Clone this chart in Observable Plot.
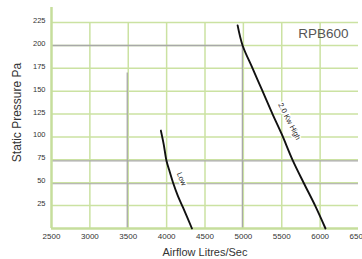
<!DOCTYPE html>
<html><head><meta charset="utf-8">
<script src="https://cdn.jsdelivr.net/npm/d3@7"></script>
<script src="https://cdn.jsdelivr.net/npm/@observablehq/plot@0.6"></script>
<style>body{margin:0;background:#fff;} #chart svg{display:block;}</style>
</head><body><div id="chart"></div>
<script>
const xTicks = [2500, 3000, 3500, 4000, 4500, 5000, 5500, 6000, 6500];
const yTicks = [25, 50, 75, 100, 125, 150, 175, 200, 225];
const highAirflow  = [4925, 4990, 5120, 5250, 5380, 5500, 5640, 5785, 5935, 6070];
const highPressure = [222, 200, 175, 150, 125, 103, 75, 50, 25, 0];
const lowAirflow   = [3925, 3962, 3998, 4040, 4084, 4145, 4213, 4330];
const lowPressure  = [107, 92, 74, 62, 50, 36, 23, 0];
const curveLabels  = [{a: 4195, p: 54, t: "Low", r: 68}, {a: 5600, p: 117, t: "2.0 Kw High", r: 63}];
const modelName = "RPB600";
const xLabel = "Airflow Litres/Sec";
const yLabel = "Static Pressure Pa";

const high = highAirflow.map((a, i) => ({a, p: highPressure[i]}));
const low = lowAirflow.map((a, i) => ({a, p: lowPressure[i]}));
const green = "#cbe2a2";
const grey = "#a8a8a8";

const chart = Plot.plot({
  width: 362, height: 259,
  marginLeft: 51, marginRight: 4, marginTop: 7, marginBottom: 31,
  style: {fontFamily: "'Liberation Sans', Arial, sans-serif", color: "#333", background: "#fff"},
  x: {domain: [2500, 6500]},
  y: {domain: [0, 241.5]},
  marks: [
    Plot.ruleY(yTicks, {x1: 2500, x2: 6500, stroke: green, strokeWidth: 1.5}),
    Plot.ruleX(xTicks.filter(d => d > 2500 && d < 6500), {y1: 0, y2: 225, stroke: green, strokeWidth: 1.5}),
    Plot.ruleY([75, 50], {x1: 2500, x2: 6500, stroke: grey, strokeWidth: 1.2, dy: 1}),
    Plot.ruleY([200], {x1: 2500, x2: 5000, stroke: grey, strokeWidth: 1.3}),
    Plot.ruleX([5000], {y1: 0, y2: 200, stroke: grey, strokeWidth: 1.3, dx: -1}),
    Plot.ruleX([3500], {y1: 0, y2: 170, stroke: grey, strokeWidth: 1.3, dx: -1}),
    Plot.ruleX([2500], {y1: 0, y2: 241.5, stroke: "#c6de9c", strokeWidth: 2.5}),
    Plot.ruleY([0], {x1: 2500, x2: 6500, stroke: "#c6de9c", strokeWidth: 2.5}),
    Plot.line(high, {x: "a", y: "p", stroke: "#111", strokeWidth: 1.9, curve: "catmull-rom"}),
    Plot.line(low, {x: "a", y: "p", stroke: "#111", strokeWidth: 1.9, curve: "catmull-rom"}),
    Plot.text(curveLabels, {x: "a", y: "p", text: "t", rotate: "r", fontSize: 7.5, fill: "#222", stroke: "white", strokeWidth: 3, paintOrder: "stroke"}),
    Plot.axisY({ticks: yTicks, tickSize: 0, tickPadding: 6, fontSize: 7.5, dy: -2, label: null}),
    Plot.axisX({ticks: xTicks, tickSize: 0, tickPadding: 5, fontSize: 8, tickFormat: d => String(d), label: null}),
    Plot.text([modelName], {frameAnchor: "top-right", dx: -10, dy: 26, lineAnchor: "middle", textAnchor: "end", fontSize: 13.5, fill: "#555"}),
    Plot.text([xLabel], {frameAnchor: "bottom", dy: 24, lineAnchor: "middle", fontSize: 11, fill: "#333"}),
    Plot.text([yLabel], {frameAnchor: "left", dx: -34, dy: -5.5, rotate: -90, textAnchor: "middle", lineAnchor: "middle", fontSize: 12, fill: "#333"})
  ]
});
document.getElementById("chart").append(chart);
</script>
</body></html>
